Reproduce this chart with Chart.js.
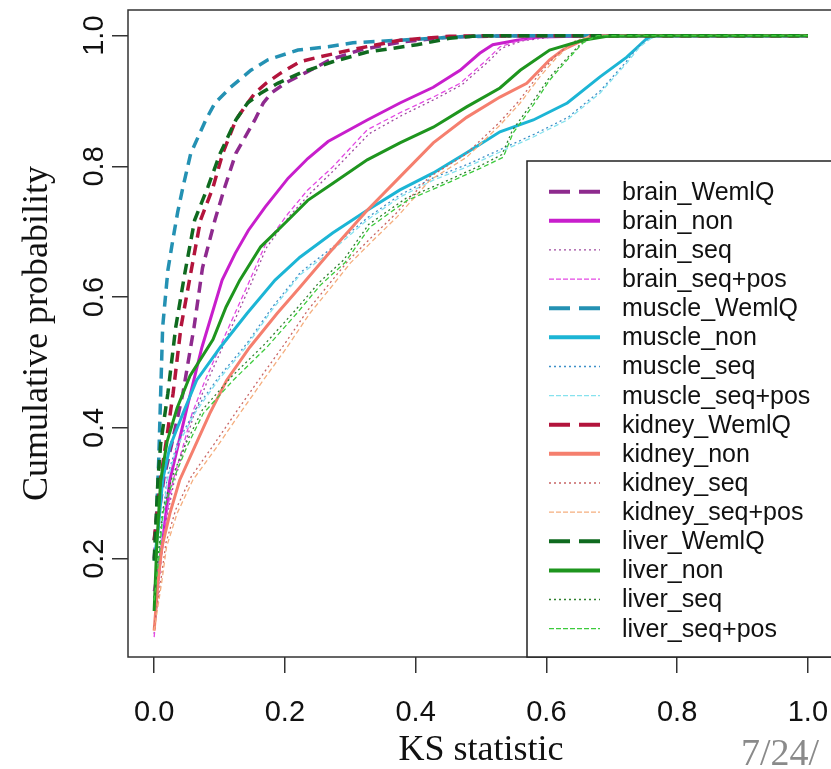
<!DOCTYPE html>
<html>
<head>
<meta charset="utf-8">
<script src="https://cdn.jsdelivr.net/npm/chart.js@4.4.1/dist/chart.umd.min.js"></script>
<style>
  html, body { margin: 0; padding: 0; background: #fff; overflow: hidden; }
  #wrap { width: 831px; height: 769px; overflow: hidden; }
</style>
</head>
<body>
<div id="wrap"><canvas id="chart" width="834" height="769"></canvas></div>
<script>
// tick positions
const xTicks = [0, 0.2, 0.4, 0.6, 0.8, 1.0]
const yTicks = [0.2, 0.4, 0.6, 0.8, 1.0]

// ECDF curves, [KS statistic, cumulative probability]
const brain_WemlQ = [[0,0.200],[0.006,0.259],[0.015,0.324],[0.027,0.376],[0.044,0.453],[0.061,0.554],[0.074,0.645],[0.093,0.718],[0.108,0.768],[0.125,0.820],[0.154,0.871],[0.167,0.897],[0.179,0.912],[0.200,0.927],[0.231,0.943],[0.269,0.963],[0.315,0.978],[0.376,0.990],[0.452,0.998],[0.560,1.0],[1.0,1.0]]
const brain_non = [[0,0.150],[0.012,0.218],[0.024,0.320],[0.050,0.430],[0.073,0.523],[0.104,0.626],[0.124,0.667],[0.144,0.702],[0.170,0.738],[0.205,0.782],[0.235,0.812],[0.266,0.838],[0.326,0.871],[0.376,0.897],[0.427,0.921],[0.468,0.947],[0.498,0.973],[0.518,0.986],[0.555,0.993],[0.590,0.998],[0.682,1.0],[1.0,1.0]]
const brain_seq = [[0,0.085],[0.012,0.212],[0.020,0.265],[0.030,0.315],[0.045,0.366],[0.060,0.418],[0.080,0.468],[0.112,0.540],[0.148,0.620],[0.172,0.676],[0.207,0.724],[0.238,0.758],[0.276,0.795],[0.329,0.850],[0.379,0.878],[0.430,0.903],[0.471,0.925],[0.511,0.960],[0.532,0.981],[0.563,0.992],[0.625,1.0],[1.0,1.0]]
const brain_seq_pos = [[0,0.080],[0.012,0.218],[0.019,0.269],[0.029,0.320],[0.044,0.371],[0.058,0.422],[0.078,0.473],[0.110,0.545],[0.146,0.625],[0.170,0.680],[0.205,0.728],[0.235,0.764],[0.273,0.799],[0.326,0.856],[0.376,0.882],[0.427,0.906],[0.468,0.927],[0.509,0.963],[0.529,0.983],[0.560,0.993],[0.621,1.0],[1.0,1.0]]

const muscle_WemlQ = [[0,0.228],[0.003,0.248],[0.007,0.351],[0.010,0.453],[0.013,0.554],[0.021,0.641],[0.029,0.690],[0.036,0.730],[0.044,0.768],[0.056,0.820],[0.079,0.871],[0.093,0.897],[0.117,0.921],[0.148,0.947],[0.174,0.963],[0.220,0.978],[0.266,0.983],[0.304,0.989],[0.376,0.993],[0.483,0.999],[0.575,1.0],[1.0,1.0]]
const muscle_non = [[0,0.197],[0.006,0.243],[0.013,0.320],[0.024,0.371],[0.044,0.422],[0.065,0.473],[0.101,0.523],[0.142,0.575],[0.185,0.626],[0.223,0.661],[0.273,0.698],[0.326,0.733],[0.376,0.764],[0.427,0.790],[0.478,0.821],[0.529,0.853],[0.580,0.871],[0.632,0.897],[0.682,0.937],[0.723,0.967],[0.754,0.996],[0.769,1.0],[1.0,1.0]]
const muscle_seq = [[0,0.140],[0.009,0.225],[0.020,0.326],[0.036,0.378],[0.063,0.428],[0.099,0.478],[0.141,0.528],[0.181,0.585],[0.224,0.638],[0.274,0.677],[0.327,0.722],[0.377,0.757],[0.428,0.783],[0.479,0.803],[0.530,0.826],[0.581,0.849],[0.633,0.875],[0.683,0.916],[0.722,0.960],[0.742,0.985],[0.762,0.998],[0.780,1.0],[1.0,1.0]]
const muscle_seq_pos = [[0,0.136],[0.009,0.218],[0.020,0.320],[0.035,0.371],[0.062,0.422],[0.098,0.473],[0.140,0.523],[0.180,0.580],[0.223,0.634],[0.273,0.672],[0.326,0.718],[0.376,0.753],[0.427,0.779],[0.478,0.799],[0.529,0.822],[0.580,0.845],[0.632,0.871],[0.682,0.912],[0.723,0.958],[0.743,0.983],[0.763,0.998],[0.781,1.0],[1.0,1.0]]

const kidney_WemlQ = [[0,0.228],[0.010,0.324],[0.018,0.376],[0.029,0.453],[0.041,0.554],[0.056,0.637],[0.071,0.718],[0.090,0.768],[0.105,0.820],[0.125,0.871],[0.143,0.897],[0.154,0.912],[0.171,0.927],[0.194,0.943],[0.223,0.960],[0.251,0.967],[0.300,0.978],[0.376,0.993],[0.452,0.999],[0.529,1.0],[1.0,1.0]]
const kidney_non = [[0,0.090],[0.006,0.167],[0.012,0.218],[0.024,0.269],[0.039,0.320],[0.062,0.371],[0.085,0.422],[0.111,0.473],[0.146,0.523],[0.188,0.575],[0.223,0.615],[0.268,0.668],[0.326,0.733],[0.376,0.784],[0.427,0.836],[0.478,0.875],[0.529,0.906],[0.570,0.927],[0.605,0.963],[0.625,0.978],[0.656,0.993],[0.682,1.0],[1.0,1.0]]
const kidney_seq = [[0,0.095],[0.011,0.172],[0.018,0.224],[0.033,0.275],[0.057,0.326],[0.093,0.377],[0.128,0.428],[0.164,0.479],[0.200,0.529],[0.235,0.580],[0.270,0.623],[0.298,0.657],[0.333,0.692],[0.369,0.727],[0.420,0.783],[0.476,0.818],[0.527,0.866],[0.558,0.900],[0.588,0.940],[0.614,0.969],[0.640,0.990],[0.666,1.0],[1.0,1.0]]
const kidney_seq_pos = [[0,0.090],[0.012,0.167],[0.019,0.218],[0.035,0.269],[0.059,0.320],[0.096,0.371],[0.131,0.422],[0.167,0.473],[0.203,0.523],[0.238,0.575],[0.273,0.618],[0.300,0.652],[0.335,0.687],[0.371,0.722],[0.422,0.779],[0.478,0.814],[0.529,0.863],[0.560,0.897],[0.590,0.937],[0.616,0.967],[0.641,0.989],[0.667,1.0],[1.0,1.0]]

const liver_WemlQ = [[0,0.197],[0.006,0.324],[0.010,0.376],[0.021,0.453],[0.033,0.554],[0.047,0.637],[0.062,0.718],[0.082,0.768],[0.101,0.820],[0.125,0.871],[0.143,0.897],[0.163,0.912],[0.189,0.927],[0.224,0.943],[0.273,0.960],[0.326,0.975],[0.402,0.986],[0.452,0.996],[0.498,1.0],[1.0,1.0]]
const liver_non = [[0,0.120],[0.004,0.220],[0.010,0.320],[0.020,0.380],[0.035,0.430],[0.055,0.480],[0.090,0.535],[0.110,0.585],[0.131,0.626],[0.163,0.677],[0.205,0.718],[0.235,0.748],[0.273,0.774],[0.326,0.810],[0.376,0.836],[0.427,0.860],[0.478,0.891],[0.529,0.920],[0.560,0.947],[0.605,0.978],[0.656,0.993],[0.693,0.999],[0.758,1.0],[1.0,1.0]]
const liver_seq = [[0,0.140],[0.008,0.224],[0.013,0.275],[0.028,0.326],[0.049,0.377],[0.074,0.428],[0.119,0.479],[0.170,0.529],[0.216,0.580],[0.252,0.622],[0.290,0.657],[0.328,0.711],[0.385,0.751],[0.450,0.779],[0.501,0.802],[0.532,0.818],[0.548,0.855],[0.578,0.897],[0.604,0.935],[0.631,0.965],[0.655,0.990],[0.677,1.0],[1.0,1.0]]
const liver_seq_pos = [[0,0.136],[0.009,0.218],[0.013,0.269],[0.029,0.320],[0.050,0.371],[0.075,0.422],[0.121,0.473],[0.172,0.523],[0.218,0.575],[0.254,0.618],[0.292,0.653],[0.330,0.707],[0.387,0.748],[0.452,0.776],[0.503,0.799],[0.534,0.814],[0.549,0.851],[0.580,0.894],[0.605,0.932],[0.632,0.963],[0.656,0.989],[0.678,1.0],[1.0,1.0]]

// line kinds: WemlQ = thick dash, non = solid, seq = dotted, seq+pos = fine dash
const kinds = {
  wemlq: { width: 3.5, dash: [11, 7], legendDash: [21, 9], legendWidth: 4 },
  non:   { width: 3,   dash: [],      legendDash: [],      legendWidth: 4 },
  seq:   { width: 1.3, dash: [2, 3],  legendDash: [2, 3],  legendWidth: 1.3 },
  pos:   { width: 1.3, dash: [5, 3],  legendDash: [5, 2],  legendWidth: 1.3 }
}

const series = [
  ['brain_WemlQ', brain_WemlQ, '#8e2a8e', 'wemlq'],
  ['brain_non', brain_non, '#c81ecc', 'non'],
  ['brain_seq', brain_seq, '#a04aa0', 'seq'],
  ['brain_seq+pos', brain_seq_pos, '#e448e4', 'pos'],
  ['muscle_WemlQ', muscle_WemlQ, '#2491b3', 'wemlq'],
  ['muscle_non', muscle_non, '#1cb5d5', 'non'],
  ['muscle_seq', muscle_seq, '#3e8fc8', 'seq'],
  ['muscle_seq+pos', muscle_seq_pos, '#86e2ee', 'pos'],
  ['kidney_WemlQ', kidney_WemlQ, '#b3143c', 'wemlq'],
  ['kidney_non', kidney_non, '#f57f6e', 'non'],
  ['kidney_seq', kidney_seq, '#c86464', 'seq'],
  ['kidney_seq+pos', kidney_seq_pos, '#f5ae7e', 'pos'],
  ['liver_WemlQ', liver_WemlQ, '#0f6a1f', 'wemlq'],
  ['liver_non', liver_non, '#1e951e', 'non'],
  ['liver_seq', liver_seq, '#2f7f2f', 'seq'],
  ['liver_seq+pos', liver_seq_pos, '#3ccb3c', 'pos']
]

const datasets = series.map(([label, pts, color, kind], i) => ({
  label,
  data: pts.map(p => ({ x: p[0], y: p[1] })),
  borderColor: color,
  borderWidth: kinds[kind].width,
  borderDash: kinds[kind].dash,
  kind,
  showLine: true,
  fill: false,
  tension: 0,
  pointRadius: 0,
  order: series.length - i
}))

// plot frame like R's box()
const frame = {
  id: 'frame',
  afterDraw(chart) {
    const { ctx, chartArea: a } = chart
    ctx.save()
    ctx.strokeStyle = '#333'
    ctx.lineWidth = 1.5
    ctx.strokeRect(a.left, a.top, a.right - a.left, a.bottom - a.top)
    ctx.restore()
  }
}

// legend box in the lower right
const legendBox = {
  id: 'legendBox',
  afterDraw(chart) {
    const ctx = chart.ctx
    const left = 527, top = 161, bottom = chart.chartArea.bottom
    ctx.save()
    ctx.fillStyle = '#fff'
    ctx.fillRect(left, top, 320, bottom - top)
    ctx.strokeStyle = '#222'
    ctx.lineWidth = 1.5
    ctx.strokeRect(left, top, 320, bottom - top)
    ctx.font = '25px "Liberation Sans", Arial, sans-serif'
    ctx.textBaseline = 'middle'
    ctx.fillStyle = '#111'
    chart.data.datasets.forEach((ds, i) => {
      const y = 191.7 + i * 29.13
      const k = kinds[ds.kind]
      ctx.beginPath()
      ctx.setLineDash(k.legendDash)
      ctx.strokeStyle = ds.borderColor
      ctx.lineWidth = k.legendWidth
      ctx.moveTo(549, y)
      ctx.lineTo(600, y)
      ctx.stroke()
      ctx.setLineDash([])
      ctx.fillText(ds.label, 622, y + 1)
    })
    ctx.fillStyle = '#8a8a8a'
    ctx.font = '38px "Liberation Serif", serif'
    ctx.textBaseline = 'alphabetic'
    ctx.fillText('7/24/', 741, 765)
    ctx.restore()
  }
}

const tickFont = { family: '"Liberation Sans", Arial, sans-serif', size: 29 }
const titleFont = { family: '"Liberation Serif", "Times New Roman", serif', size: 36, lineHeight: 1 }

new Chart(document.getElementById('chart'), {
  type: 'scatter',
  data: { datasets },
  plugins: [frame, legendBox],
  options: {
    responsive: false,
    animation: false,
    layout: { padding: { top: 10, right: 0, left: 0, bottom: 0 } },
    plugins: { legend: { display: false }, tooltip: { enabled: false } },
    scales: {
      x: {
        type: 'linear',
        min: -0.04,
        max: 1.04,
        afterBuildTicks: s => { s.ticks = xTicks.map(v => ({ value: v })) },
        afterFit: s => { s.height = 112; s.paddingLeft = 0; s.paddingRight = 0 },
        border: { display: false },
        grid: { drawOnChartArea: false, drawTicks: true, tickLength: 16, color: '#333', lineWidth: 1.5 },
        ticks: { autoSkip: false, maxRotation: 0, padding: 23, color: '#111', font: tickFont, callback: v => v.toFixed(1) },
        title: { display: true, text: 'KS statistic', color: '#111', font: titleFont, padding: { top: 0, bottom: 0 } }
      },
      y: {
        type: 'linear',
        min: 0.0496,
        max: 1.0392,
        afterBuildTicks: s => { s.ticks = yTicks.map(v => ({ value: v })) },
        afterFit: s => { s.width = 128; s.paddingTop = 0; s.paddingBottom = 0 },
        border: { display: false },
        grid: { drawOnChartArea: false, drawTicks: true, tickLength: 16, color: '#333', lineWidth: 1.5 },
        ticks: { autoSkip: false, minRotation: 90, maxRotation: 90, crossAlign: 'center', padding: -3, color: '#111', font: tickFont, callback: v => v.toFixed(1) },
        title: { display: true, text: 'Cumulative probability', color: '#111', font: titleFont, padding: { top: 20, bottom: 0 } }
      }
    }
  }
})
</script>
</body>
</html>
